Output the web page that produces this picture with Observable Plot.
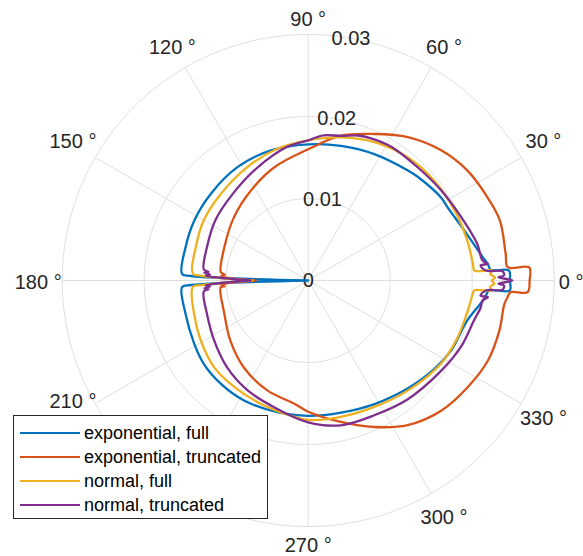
<!DOCTYPE html>
<html>
<head>
<meta charset="utf-8">
<script src="https://cdn.jsdelivr.net/npm/d3@7"></script>
<script src="https://cdn.jsdelivr.net/npm/@observablehq/plot@0.6"></script>
<style>
  html, body { margin: 0; padding: 0; background: #fff; }
  body { font-family: "Liberation Sans", Arial, Helvetica, sans-serif; }
  #wrap { position: relative; width: 583px; height: 556px; overflow: hidden; }
  #legend { position: absolute; left: 13px; top: 415px; width: 255px; height: 104px;
            box-sizing: border-box; border: 1px solid #262626; background: #fff; }
  .row { position: absolute; left: 0; height: 24px; display: flex; align-items: center; }
  .row svg { margin-left: 6px; margin-right: 4px; }
  .row span { font-size: 18px; color: #000; white-space: nowrap; }
</style>
</head>
<body>
<div id="wrap"></div>
<script>
// ---------------- data ----------------
const seriesNames  = ["exponential, full", "exponential, truncated", "normal, full", "normal, truncated"];
const seriesColors = ["#0072BD", "#D95319", "#EDB120", "#7E2F8E"];

// exponential, full  (angle in degrees, radius)
const expFullTheta = [-180, -177.8, -177, -164.8, -151, -141.4, -130.3, -118.1, -103.2, -90, -76, -61.8, -47.4, -35, -26.1, -14.1, -5.9, -3.2, -2.85, 0, 2.85, 3.35, 5.3, 7, 17.7, 27.7, 32, 43.3, 48, 62.4, 76.3, 90, 106, 122, 138.4, 152.3, 164.8, 177, 177.8, 180];
const expFullR     = [0, 0.0143, 0.0154, 0.0155, 0.0159, 0.0163, 0.0165, 0.0166, 0.0165, 0.0165, 0.0166, 0.0171, 0.0179, 0.0188, 0.0194, 0.0200, 0.0216, 0.0221, 0.0246, 0.0246, 0.0245, 0.0223, 0.0220, 0.0216, 0.0200, 0.0192, 0.0191, 0.0184, 0.0181, 0.0174, 0.0169, 0.0166, 0.0165, 0.0163, 0.0159, 0.0157, 0.0155, 0.0154, 0.0143, 0];

// exponential, truncated
const expTruncTheta = [-180, -178, -177, -176, -175.6, -158.4, -142.3, -126.5, -110.4, -96.6, -90, -77, -65.7, -55.5, -44.4, -33.8, -24, -14.7, -6.8, -4.8, -3.3, -3.05, 0, 3.4, 3.8, 7.7, 17.3, 24.9, 34.6, 44.4, 55.2, 65.7, 77.3, 90, 106.8, 122.6, 139.5, 158.4, 174.6, 176, 177, 178, 180];
const expTruncR     = [0.0064, 0.0100, 0.0106, 0.0102, 0.0107, 0.0110, 0.0120, 0.0132, 0.0143, 0.0151, 0.0160, 0.0177, 0.0196, 0.0214, 0.0227, 0.0234, 0.0240, 0.0241, 0.0241, 0.0244, 0.0247, 0.0268, 0.0270, 0.0270, 0.0244, 0.0243, 0.0245, 0.0241, 0.0236, 0.0227, 0.0213, 0.0196, 0.0181, 0.0160, 0.0144, 0.0130, 0.0119, 0.0110, 0.0107, 0.0102, 0.0106, 0.0100, 0.0064];

// normal, full
const normFullTheta = [-180, -177.5, -176.7, -163.7, -150.8, -137.4, -124.8, -111.1, -96, -90, -76.5, -62.4, -47.9, -32.1, -20.8, -10.7, -5.2, -3.4, -3.1, -2, -1, 0, 1, 2, 3.1, 3.4, 5.8, 14.1, 25.6, 38.4, 51.1, 64.4, 77.1, 90, 103.2, 118.2, 135.3, 150, 163.5, 176.5, 177.5, 180];
const normFullR     = [0.0068, 0.0130, 0.0141, 0.0145, 0.0150, 0.0156, 0.0158, 0.0161, 0.0167, 0.0170, 0.0171, 0.0174, 0.0181, 0.0191, 0.0195, 0.0198, 0.0201, 0.0203, 0.0224, 0.0222, 0.0227, 0.0224, 0.0228, 0.0222, 0.0225, 0.0203, 0.0202, 0.0200, 0.0198, 0.0196, 0.0193, 0.0187, 0.0179, 0.0171, 0.0165, 0.0157, 0.0150, 0.0147, 0.0143, 0.0141, 0.0130, 0.0068];

// normal, truncated
const normTruncTheta = [-180, -178, -177.3, -176.5, -175.7, -175, -174, -161.7, -147.5, -133, -119, -105.1, -90, -77.3, -63.9, -50, -34.1, -23.6, -13.5, -8.8, -6.5, -5.3, -5, -3.2, -2.75, -1.5, -1, 0, 1, 1.5, 2.75, 3.2, 5, 5.3, 6.5, 12.2, 22.5, 34.1, 46, 58, 65, 71, 77, 84, 90, 98.9, 114.2, 131.2, 147, 161.7, 174, 175, 175.7, 176.5, 177.3, 178, 180];
const normTruncR     = [0.0070, 0.0115, 0.0125, 0.0120, 0.0127, 0.0122, 0.0128, 0.0130, 0.0136, 0.0145, 0.0153, 0.0160, 0.0173, 0.0181, 0.0183, 0.0189, 0.0196, 0.0203, 0.0208, 0.0213, 0.0214, 0.0220, 0.0211, 0.0217, 0.0237, 0.0239, 0.0232, 0.0249, 0.0232, 0.0239, 0.0237, 0.0217, 0.0211, 0.0220, 0.0214, 0.0211, 0.0202, 0.0196, 0.0192, 0.0192, 0.0190, 0.0187, 0.0181, 0.0178, 0.0171, 0.0165, 0.0151, 0.0140, 0.0135, 0.0130, 0.0128, 0.0122, 0.0127, 0.0120, 0.0125, 0.0115, 0.0070];

const rTicks = [0, 0.01, 0.02, 0.03];
const rTickLabels = ["0", "0.01", "0.02", "0.03"];
const thetaTicks = [0, 30, 60, 90, 120, 150, 180, 210, 240, 270, 300, 330];
const hiddenThetaLabels = [240];     // covered by the legend box in the reference
const rMax = 0.03;
const rAxisAngle = 80;

// ---------------- layout ----------------
const W = 583, H = 556;
const cx = 307.7, cy = 280;          // centre in px
const pxPerUnit = 246 / rMax;        // outer ring radius 246 px
const rad = d => d * Math.PI / 180;
const pol = (deg, r) => ({x: r * Math.cos(rad(deg)), y: r * Math.sin(rad(deg))});

const seriesList = [
  {name: seriesNames[0], theta: expFullTheta,  r: expFullR},
  {name: seriesNames[1], theta: expTruncTheta, r: expTruncR},
  {name: seriesNames[2], theta: normFullTheta, r: normFullR},
  {name: seriesNames[3], theta: normTruncTheta, r: normTruncR}
];
const curveRows = seriesList.map(s => s.theta.map((t, i) => ({series: s.name, ...pol(t, s.r[i])})));

// grid rings
const ringRows = [];
for (const rr of rTicks.filter(v => v > 0)) {
  for (let a = 0; a <= 360; a += 1) ringRows.push({ring: rr, ...pol(a, rr)});
}
const spokeRows = thetaTicks.map(a => ({x1: 0, y1: 0, x2: pol(a, rMax).x, y2: pol(a, rMax).y}));

// theta labels (centre radius in px, slight outward push on diagonals)
const fs = 20;
const thetaLabelRows = thetaTicks.filter(a => !hiddenThetaLabels.includes(a)).map(a => {
  const text = `${a} °`;
  const c = Math.cos(rad(a)), s = Math.sin(rad(a));
  const rpx = 263 + 10 * Math.abs(Math.sin(rad(2 * a))) + (c < -0.99 ? 7 : 0);
  const p = pol(a, rpx / pxPerUnit);
  let shiftPx = (s > 0.3 && Math.abs(c) > 0.8) ? 3 : -2;   // px upward
  if (a === 210) shiftPx = 15;                             // sits above the legend in the reference
  return {text, x: p.x, y: p.y + shiftPx / pxPerUnit};
});
const rLabelRows = rTicks.map((v, i) => ({text: rTickLabels[i], ...pol(rAxisAngle, v)}));

const chart = Plot.plot({
  width: W, height: H, margin: 0,
  style: {background: "#fff", fontFamily: "'Liberation Sans', Arial, sans-serif"},
  x: {domain: [-cx / pxPerUnit, (W - cx) / pxPerUnit], range: [0, W], axis: null},
  y: {domain: [-(H - cy) / pxPerUnit, cy / pxPerUnit], range: [H, 0], axis: null},
  color: {domain: seriesNames, range: seriesColors},
  marks: [
    Plot.line(ringRows, {x: "x", y: "y", z: "ring", stroke: "#dfdfdf", strokeWidth: 1}),
    Plot.link(spokeRows, {x1: "x1", y1: "y1", x2: "x2", y2: "y2", stroke: "#dfdfdf", strokeWidth: 1}),
    Plot.text(thetaLabelRows, {x: "x", y: "y", text: "text", fontSize: fs, fill: "#262626", textAnchor: "middle", lineAnchor: "middle"}),
    Plot.text(rLabelRows, {x: "x", y: "y", text: "text", fontSize: fs, fill: "#262626", textAnchor: "middle", lineAnchor: "middle"}),
    ...curveRows.map(rows => Plot.line(rows, {x: "x", y: "y", stroke: "series", strokeWidth: 2.3, strokeLinejoin: "round", curve: "catmull-rom"}))
  ]
});

const wrap = document.getElementById("wrap");
wrap.appendChild(chart);

// legend overlay
const legend = document.createElement("div");
legend.id = "legend";
seriesNames.forEach((name, i) => {
  const row = document.createElement("div");
  row.className = "row";
  row.style.top = (5 + i * 24) + "px";
  row.innerHTML = `<svg width="60" height="4"><line x1="0" y1="2" x2="60" y2="2" stroke="${seriesColors[i]}" stroke-width="2.2"/></svg><span>${name}</span>`;
  legend.appendChild(row);
});
wrap.appendChild(legend);
</script>
</body>
</html>
